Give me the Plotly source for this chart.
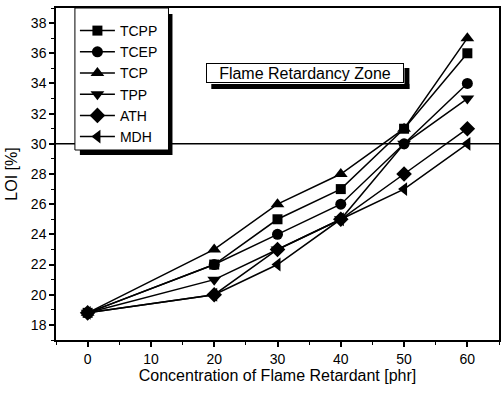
import plotly.graph_objects as go

x = [0, 20, 30, 40, 50, 60]
names = ["TCPP", "TCEP", "TCP", "TPP", "ATH", "MDH"]
tcpp = [18.8, 22, 25, 27, 31, 36]
tcep = [18.8, 22, 24, 26, 30, 34]
tcp = [18.8, 23, 26, 28, 31, 37]
tpp = [18.8, 21, 23, 25, 30, 33]
ath = [18.8, 20, 23, 25, 28, 31]
mdh = [18.8, 20, 22, 25, 27, 30]
series = [tcpp, tcep, tcp, tpp, ath, mdh]
symbols = ["square", "circle", "triangle-up", "triangle-down", "diamond", "triangle-left"]
sizes = [10, 11, 12, 12, 12, 12]

W, H = 502, 395
ml, mr, mt, mb = 56, 1, 8, 55
pw, ph = W - ml - mr, H - mt - mb
xr = [-5, 65]
yr = [17, 39]

def px(xp):
    return (xp - ml) / pw

def py(yp):
    return 1 - (yp - mt) / ph

def dx(xp):
    return xr[0] + px(xp) * (xr[1] - xr[0])

def dy(yp):
    return yr[0] + py(yp) * (yr[1] - yr[0])

fig = go.Figure()
for n, s, sym, sz in zip(names, series, symbols, sizes):
    fig.add_trace(go.Scatter(
        x=x, y=s, name=n, mode="lines+markers",
        line=dict(color="black", width=1.5),
        marker=dict(symbol=sym, size=sz, color="black"),
    ))

font = "Liberation Sans, Arial, sans-serif"
fig.update_layout(
    width=W, height=H,
    margin=dict(l=ml, r=mr, t=mt, b=mb),
    paper_bgcolor="white", plot_bgcolor="white",
    font=dict(family=font, color="black", size=14),
    showlegend=True,
    legend=dict(
        x=px(75), y=py(15), xanchor="left", yanchor="top",
        bgcolor="rgba(0,0,0,0)", borderwidth=0,
        font=dict(size=14, color="black"),
        tracegroupgap=0, itemwidth=35,
    ),
    xaxis=dict(
        range=xr, tickvals=[0, 10, 20, 30, 40, 50, 60],
        showgrid=False, zeroline=False,
        showline=True, linecolor="black", linewidth=1.5, mirror=True,
        ticks="outside", ticklen=5, tickwidth=1.5, tickcolor="black",
        minor=dict(dtick=5, ticks="outside", ticklen=3, tickwidth=1, tickcolor="black"),
        title=dict(text="Concentration of Flame Retardant [phr]", font=dict(size=16), standoff=0),
        tickfont=dict(size=14),
    ),
    yaxis=dict(
        range=yr, tickvals=[18, 20, 22, 24, 26, 28, 30, 32, 34, 36, 38],
        showgrid=False, zeroline=False,
        showline=True, linecolor="black", linewidth=1.5, mirror=True,
        ticks="outside", ticklen=5, tickwidth=1.5, tickcolor="black",
        minor=dict(dtick=1, ticks="outside", ticklen=3, tickwidth=1, tickcolor="black"),
        title=dict(text="LOI [%]", font=dict(size=16), standoff=9),
        tickfont=dict(size=14),
    ),
)

# horizontal line at LOI = 30
fig.add_shape(type="line", xref="paper", yref="y", x0=0, x1=1, y0=30, y1=30,
              line=dict(color="black", width=1.5), layer="below")

# legend box with shadow
fig.add_shape(type="rect", xref="paper", yref="paper",
              x0=px(80), x1=px(173), y0=py(155), y1=py(14),
              fillcolor="black", line=dict(width=0), layer="above")
fig.add_shape(type="rect", xref="paper", yref="paper",
              x0=px(75), x1=px(169), y0=py(150), y1=py(8),
              fillcolor="white", line=dict(color="black", width=1), layer="above")

# annotation box shadow strips (subplot lower layer)
fig.add_shape(type="rect", xref="x", yref="y",
              x0=dx(212), x1=dx(411), y0=dy(89), y1=dy(84),
              fillcolor="black", line=dict(width=0), layer="below")
fig.add_shape(type="rect", xref="x", yref="y",
              x0=dx(406), x1=dx(411), y0=dy(89), y1=dy(68),
              fillcolor="black", line=dict(width=0), layer="below")
fig.add_annotation(xref="paper", yref="paper", x=px(207), y=py(63),
                   xanchor="left", yanchor="top",
                   text="Flame Retardancy Zone", showarrow=False,
                   width=194, height=16, align="center", valign="middle",
                   bgcolor="white", bordercolor="black", borderwidth=1, borderpad=1,
                   font=dict(size=16, color="black"))

fig.write_html("out.html")
